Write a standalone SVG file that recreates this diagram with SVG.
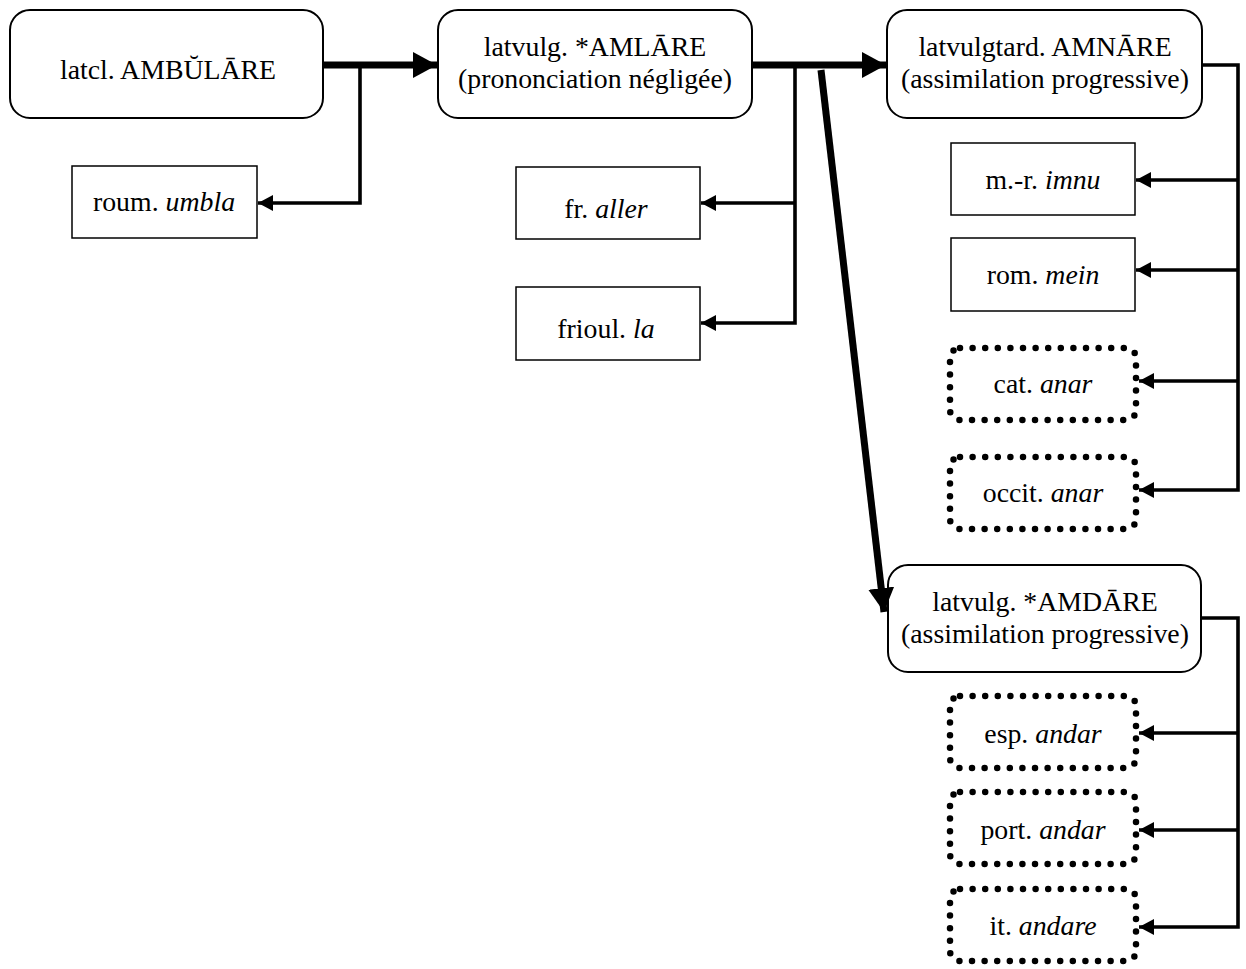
<svg xmlns="http://www.w3.org/2000/svg" width="1246" height="969" viewBox="0 0 1246 969">
<style>
.rn{fill:#fff;stroke:#000;stroke-width:2}
.bx{fill:#fff;stroke:#000;stroke-width:1.5}
.dt{fill:#fff;stroke:#000;stroke-width:6.5;stroke-dasharray:0 12.6;stroke-linecap:round}
text{font-family:"Liberation Serif","Times New Roman",serif;font-size:27.8px;fill:#000;text-anchor:middle}
.i{font-style:italic}
.thin{fill:none;stroke:#000;stroke-width:3.6}
.thick{fill:none;stroke:#000;stroke-width:7}
</style>
<defs>
<marker id="ah" markerUnits="userSpaceOnUse" markerWidth="16" markerHeight="16" refX="15" refY="8" orient="auto"><path d="M0,0 L15,8 L0,16 Z" fill="#000"/></marker>
<marker id="AH" markerUnits="userSpaceOnUse" markerWidth="25" markerHeight="26" refX="24" refY="13" orient="auto"><path d="M0,0 L24,13 L0,26 Z" fill="#000"/></marker>
</defs>
<rect width="1246" height="969" fill="#fff"/>
<g id="n1"><rect class="rn" x="10" y="10" width="313" height="108" rx="20"/><text x="168" y="79">latcl. AMBŬLĀRE</text></g>
<g id="n2"><rect class="rn" x="438" y="10" width="314" height="108" rx="20"/><text x="595" y="56">latvulg. *AMLĀRE</text><text x="595" y="88">(prononciation négligée)</text></g>
<g id="n3"><rect class="rn" x="887" y="10" width="315" height="108" rx="20"/><text x="1045" y="56">latvulgtard. AMNĀRE</text><text x="1045" y="88">(assimilation progressive)</text></g>
<g id="n4"><rect class="rn" x="888" y="565" width="313" height="107" rx="20"/><text x="1045" y="611">latvulg. *AMDĀRE</text><text x="1045" y="643">(assimilation progressive)</text></g>
<g id="roum"><rect class="bx" x="72" y="166" width="185" height="72"/><text x="164" y="211">roum. <tspan class="i">umbla</tspan></text></g>
<g id="fr"><rect class="bx" x="516" y="167" width="184" height="72"/><text x="606" y="218">fr. <tspan class="i">aller</tspan></text></g>
<g id="frioul"><rect class="bx" x="516" y="287" width="184" height="73"/><text x="606" y="338">frioul. <tspan class="i">la</tspan></text></g>
<g id="mr"><rect class="bx" x="951" y="143" width="184" height="72"/><text x="1043" y="189">m.-r. <tspan class="i">imnu</tspan></text></g>
<g id="rom"><rect class="bx" x="951" y="238" width="184" height="73"/><text x="1043" y="284">rom. <tspan class="i">mein</tspan></text></g>
<g id="cat"><rect class="dt" x="950" y="348" width="186" height="72" rx="10"/><text x="1043" y="393">cat. <tspan class="i">anar</tspan></text></g>
<g id="occit"><rect class="dt" x="950" y="457" width="186" height="72" rx="10"/><text x="1043" y="502">occit. <tspan class="i">anar</tspan></text></g>
<g id="esp"><rect class="dt" x="950" y="696" width="186" height="72" rx="10"/><text x="1043" y="743">esp. <tspan class="i">andar</tspan></text></g>
<g id="port"><rect class="dt" x="950" y="792" width="186" height="72" rx="10"/><text x="1043" y="839">port. <tspan class="i">andar</tspan></text></g>
<g id="it"><rect class="dt" x="950" y="889" width="186" height="72" rx="10"/><text x="1043" y="935">it. <tspan class="i">andare</tspan></text></g>
<g id="connectors">
<path class="thick" d="M323,65 H437" marker-end="url(#AH)"/>
<path class="thin" d="M360,65 V203 H258" marker-end="url(#ah)"/>
<path class="thick" d="M752,65 H886" marker-end="url(#AH)"/>
<path class="thin" d="M795,65 V323 H701" marker-end="url(#ah)"/>
<path class="thin" d="M795,203 H701" marker-end="url(#ah)"/>
<path class="thick" d="M821,70 L884,612" marker-end="url(#AH)"/>
<path class="thin" d="M1202,65 H1238 V490 H1139" marker-end="url(#ah)"/>
<path class="thin" d="M1238,180 H1136" marker-end="url(#ah)"/>
<path class="thin" d="M1238,270 H1136" marker-end="url(#ah)"/>
<path class="thin" d="M1238,381 H1139" marker-end="url(#ah)"/>
<path class="thin" d="M1201,618 H1238 V927 H1139" marker-end="url(#ah)"/>
<path class="thin" d="M1238,733 H1139" marker-end="url(#ah)"/>
<path class="thin" d="M1238,830 H1139" marker-end="url(#ah)"/>
</g>
</svg>
